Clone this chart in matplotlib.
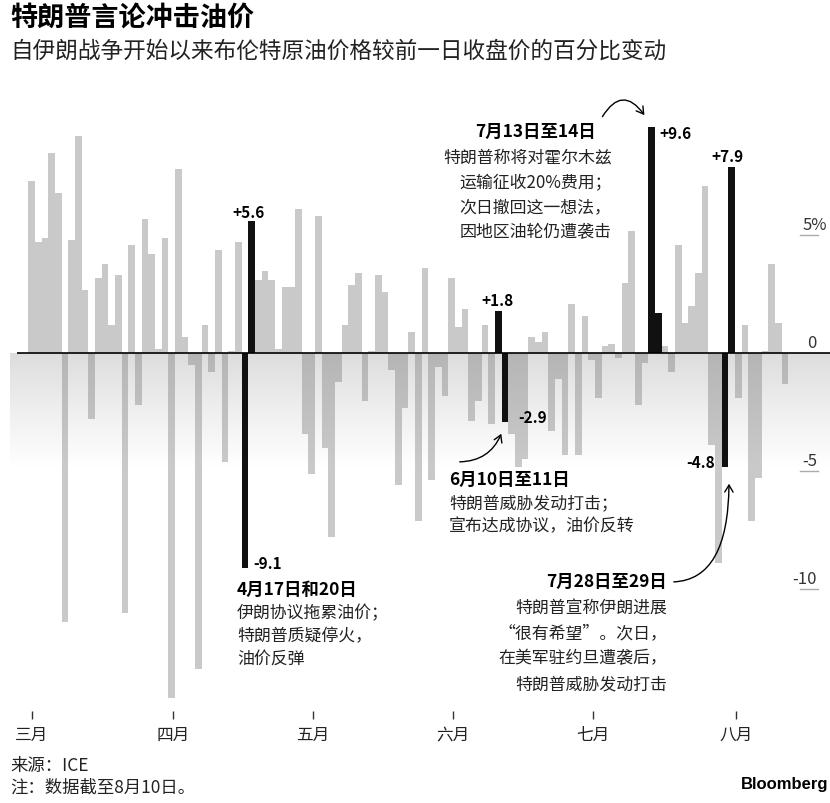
import numpy as np
import matplotlib
matplotlib.use('Agg')
import matplotlib.pyplot as plt
from matplotlib.colors import LinearSegmentedColormap
from matplotlib.patches import FancyArrowPatch
import matplotlib.transforms as mtransforms

plt.rcParams['font.family'] = ['Noto Sans CJK SC', 'DejaVu Sans']

# daily % change of Brent vs previous close, one value per trading day (Mar -> Aug 10)
changes = [
    7.3, 4.7, 4.9, 8.5, 6.8, -11.4, 4.8, 9.2, 2.7, -2.8,
    3.2, 3.8, 1.2, 3.3, -11.0, 4.6, -2.2, 5.7, 4.2, 0.2,
    4.9, -14.6, 7.8, 0.7, -0.5, -13.4, 1.2, -0.8, 4.4, -4.6,
    0.1, 4.7, -9.1, 5.6, 3.1, 3.5, 3.1, 0.2, 2.8, 2.8,
    6.1, -3.4, -5.1, 5.8, -4.0, -7.8, -1.2, 1.2, 2.9, 3.4,
    -2.0, 0.1, 3.3, 2.6, -0.7, -5.6, -2.3, 0.9, -7.1, 3.6,
    -5.35, -0.6, -1.8, 3.2, 1.1, 1.9, -2.85, -2.0, 1.2, -3.0,
    1.8, -2.9, -3.4, -4.8, -4.5, 0.7, 0.5, 0.9, -3.3, -1.1,
    -4.3, 2.1, -4.3, 1.6, -0.3, -1.9, 0.3, 0.4, -0.2, 3.0,
    5.2, -2.2, -0.4, 9.6, 1.7, 0.3, -0.8, 4.6, 1.3, 2.0,
    3.4, 7.1, -3.9, -8.9, -4.8, 7.9, -1.9, 1.2, -7.1, -5.3,
    0.1, 3.8, 1.3, -1.3,
]
# days tied to Trump's remarks (drawn in black)
highlight_idx = [32, 33, 70, 71, 93, 94, 104, 105]

month_labels = ['三月', '四月', '五月', '六月', '七月', '八月']
month_pos = [0, 21.2, 42.2, 63.2, 84.2, 105.6]

ytick_vals = [5, 0, -5, -10]
ytick_text = ['5%', '0', '-5', '-10']

title = '特朗普言论冲击油价'
subtitle = '自伊朗战争开始以来布伦特原油价格较前一日收盘价的百分比变动'

note1 = ['4月17日和20日', '伊朗协议拖累油价；', '特朗普质疑停火，', '油价反弹']
note2 = ['6月10日至11日', '特朗普威胁发动打击；', '宣布达成协议，油价反转']
note3 = ['7月13日至14日', '特朗普称将对霍尔木兹', '运输征收20%费用；', '次日撤回这一想法，', '因地区油轮仍遭袭击']
note4 = ['7月28日至29日', '特朗普宣称伊朗进展', '“很有希望”。次日，', '在美军驻约旦遭袭后，', '特朗普威胁发动打击']

GRAY = '#7a7a7a'
PX = 0.72  # points per pixel at dpi 100

fig = plt.figure(figsize=(8.3, 8.04), dpi=100)
ax = fig.add_axes([0.01205, 0.11443, 0.98795, 0.76119])
XL = (-3.25, 119.75)
YL = (-15.16, 10.78)

# soft gray band under the zero line
grad = np.linspace(0, 1, 256).reshape(-1, 1) ** 0.9
cmap = LinearSegmentedColormap.from_list('band', ['#dcdcdc', '#ffffff'])
ax.imshow(grad, extent=[XL[0], XL[1], -4.8, 0], cmap=cmap, aspect='auto', zorder=0)

x = np.arange(len(changes))
vals = np.array(changes)
hi = np.isin(x, highlight_idx)
ax.bar(x[~hi], vals[~hi], width=1.0, color=GRAY, alpha=0.4, linewidth=0, zorder=2)
ax.bar(x[hi], vals[hi], width=1.0, color='#111111', linewidth=0, zorder=3)

ax.hlines(0, -2.2, XL[1], color='black', lw=1.2, zorder=4)

ax.set_xlim(*XL)
ax.set_ylim(*YL)
for s in ax.spines.values():
    s.set_visible(False)
ax.set_xticks(month_pos, month_labels)
ax.tick_params(axis='x', length=5.8, width=1, color='#333333', pad=5,
               labelsize=12, labelcolor='#222222')
ax.tick_params(axis='y', left=False, labelleft=False)

# y labels on the right, sitting above short rules
tr = mtransforms.blended_transform_factory(ax.transAxes, ax.transData)
for v, t in zip(ytick_vals, ytick_text):
    xr = 0.9965 if t.endswith('%') else 0.9841
    ax.text(xr, v + 0.25, t, transform=tr, ha='right', va='baseline',
            fontsize=12, color='#333333')
    if v != 0:
        ax.axhline(v, xmin=0.963, xmax=0.985, color='#aaaaaa', lw=1)

# value labels on the highlighted bars
def vlabel(i, txt, dx, dy, ha):
    xa = x[i] + (0.5 if ha == 'left' else -0.5 if ha == 'right' else 0)
    ax.annotate(txt, (xa, vals[i]), xytext=(dx * PX, dy * PX),
                textcoords='offset points', ha=ha, va='baseline',
                fontsize=11, fontweight='bold', zorder=6)

vlabel(32, '-9.1', 5, 0, 'left')
vlabel(33, '+5.6', -3, 4, 'center')
vlabel(70, '+1.8', -1, 6, 'center')
vlabel(71, '-2.9', 10, 0, 'left')
vlabel(93, '+9.6', 4, -11, 'left')
vlabel(104, '-4.8', -7, 0, 'right')
vlabel(105, '+7.9', -4, 6, 'center')

# annotation blocks
def note(lines, xt, yt, ha, step, xbody=None):
    if xbody is None:
        xbody = xt
    ax.annotate(lines[0], (xt, yt), ha=ha, va='center', fontsize=12.5,
                fontweight='bold', color='black', zorder=6)
    for k, ln in enumerate(lines[1:], start=1):
        ax.annotate(ln, (xbody, yt), xytext=(0, -k * step * PX),
                    textcoords='offset points', ha=ha, va='center',
                    fontsize=12.2, color='#222222', zorder=6)

note(note1, 30.8, -9.99, 'left', 23)
note(note2, 62.6, -5.33, 'left', 23)
note(note3, 84.6, 9.42, 'right', 25, xbody=87.0)
note(note4, 95.3, -9.65, 'right', 25.5)

def arrow(a, b, style):
    ax.add_patch(FancyArrowPatch(a, b, connectionstyle=style,
                                 arrowstyle='->,head_length=5,head_width=3',
                                 lw=1, color='black', zorder=6, clip_on=False))

arrow((63.8, -4.6), (70.6, -3.3), 'arc3,rad=0.35')
arrow((85.4, 9.93), (92.15, 10.0), 'arc3,rad=-0.8')
arrow((95.9, -9.69), (104.6, -5.41), 'angle3,angleA=0,angleB=90')

fig.text(10 / 830, 1 - 17 / 804, title, ha='left', va='center',
         fontsize=19.5, fontweight='bold')
fig.text(10 / 830, 1 - 51 / 804, subtitle, ha='left', va='center',
         fontsize=16.3, color='#222222')
fig.text(10 / 830, 1 - 766 / 804, '来源：ICE', ha='left', va='center',
         fontsize=12.5, color='#222222')
fig.text(10 / 830, 1 - 788 / 804, '注：数据截至8月10日。', ha='left', va='center',
         fontsize=12.5, color='#222222')
fig.text(828 / 830, 1 - 785 / 804, 'Bloomberg', ha='right', va='center',
         fontsize=12, fontweight='bold', family=['Liberation Sans', 'DejaVu Sans'])

fig.savefig('out.png', dpi=100)
